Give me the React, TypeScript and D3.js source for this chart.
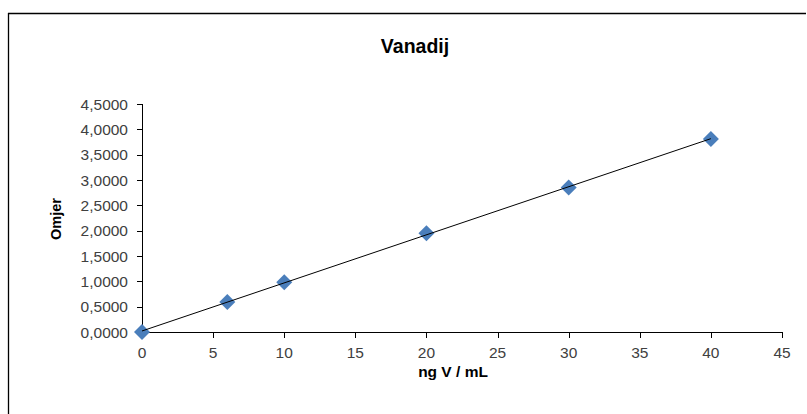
import React from "react";
import * as d3 from "d3";

const xValues = [0, 6, 10, 20, 30, 40];
const yValues = [0, 0.59, 0.98, 1.95, 2.85, 3.81];
const xTicks = [0, 5, 10, 15, 20, 25, 30, 35, 40, 45];
const yTicks = [0, 0.5, 1, 1.5, 2, 2.5, 3, 3.5, 4, 4.5];
const title = "Vanadij";
const xLabel = "ng V / mL";
const yLabel = "Omjer";

export default function App() {
  const W = 807, H = 414;
  const x = d3.scaleLinear().domain([0, 45]).range([142, 782]);
  const y = d3.scaleLinear().domain([0, 4.5]).range([332, 104]);
  const n = xValues.length;
  const mx = d3.mean(xValues)!;
  const my = d3.mean(yValues)!;
  let sxy = 0, sxx = 0;
  for (let i = 0; i < n; i++) {
    sxy += (xValues[i] - mx) * (yValues[i] - my);
    sxx += (xValues[i] - mx) ** 2;
  }
  const slope = sxy / sxx;
  const intercept = my - slope * mx;
  const x0 = d3.min(xValues)!, x1 = d3.max(xValues)!;
  const line = d3.line<[number, number]>().x(d => x(d[0])).y(d => y(d[1]));
  const trend: [number, number][] = [[x0, intercept + slope * x0], [x1, intercept + slope * x1]];
  const diamond = (cx: number, cy: number, r: number) => `M${cx},${cy - r}L${cx + r},${cy}L${cx},${cy + r}L${cx - r},${cy}Z`;
  const font = "Liberation Sans, Arial, sans-serif";
  return (
    <svg width={W} height={H} style={{ position: "absolute", left: 0, top: 0, display: "block" }} fontFamily={font}>
      <rect x={0} y={0} width={W} height={H} fill="#fff" />
      <line x1={8} y1={13.5} x2={806} y2={13.5} stroke="#000" strokeWidth={1.3} />
      <line x1={8.5} y1={13} x2={8.5} y2={414} stroke="#000" strokeWidth={1.3} />
      <text x={415} y={53} textAnchor="middle" fontSize={19.5} fontWeight="bold" fill="#000">{title}</text>
      {/* y axis */}
      <line x1={x(0) + 0.5} y1={y(4.5)} x2={x(0) + 0.5} y2={y(0)} stroke="#000" strokeWidth={1} />
      {yTicks.map(t => (
        <g key={"y" + t}>
          <line x1={x(0) - 5} x2={x(0)} y1={Math.round(y(t)) + 0.5} y2={Math.round(y(t)) + 0.5} stroke="#000" />
          <text x={128} y={y(t)} dy="0.36em" textAnchor="end" fontSize={15.5} fill="#404040">
            {t.toFixed(4).replace(".", ",")}
          </text>
        </g>
      ))}
      {/* x axis */}
      <line x1={x(0)} y1={y(0) + 0.5} x2={x(45)} y2={y(0) + 0.5} stroke="#000" strokeWidth={1} />
      {xTicks.map(t => (
        <g key={"x" + t}>
          <line x1={Math.round(x(t)) + 0.5} x2={Math.round(x(t)) + 0.5} y1={y(0)} y2={y(0) + 6} stroke="#000" />
          <text x={x(t)} y={358} textAnchor="middle" fontSize={15.5} fill="#404040">{t}</text>
        </g>
      ))}
      <text x={453} y={377} textAnchor="middle" fontSize={15.5} fontWeight="bold" fill="#000">{xLabel}</text>
      <text transform={`translate(61,219) rotate(-90)`} textAnchor="middle" fontSize={14.5} fontWeight="bold" fill="#000">{yLabel}</text>
      {xValues.map((v, i) => (
        <path key={"m" + i} d={diamond(x(v), y(yValues[i]), 8)} fill="#4A7EBB" />
      ))}
      <path d={line(trend)!} stroke="#000" strokeWidth={1} fill="none" />
    </svg>
  );
}
